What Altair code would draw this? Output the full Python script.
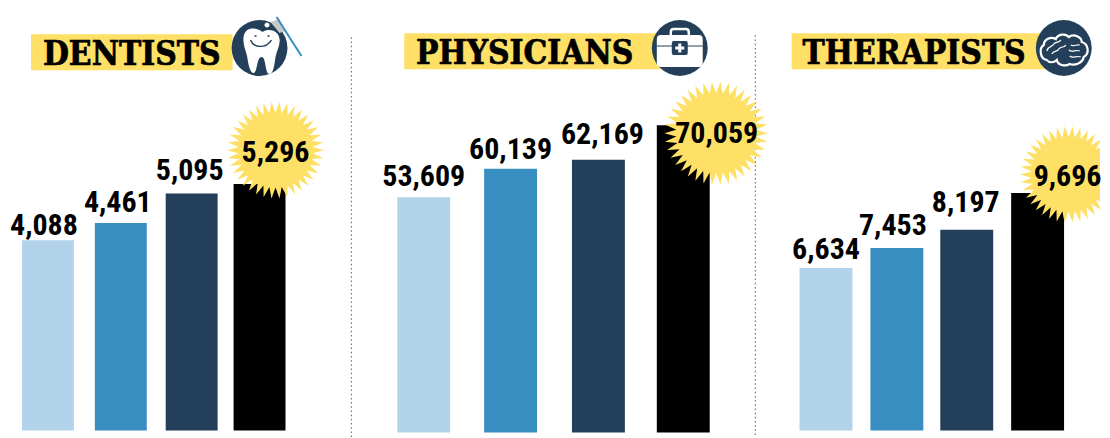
import math
import altair as alt
import pandas as pd

# ---------- data ----------
groups = ["Group 1", "Group 2", "Group 3", "Group 4"]
dentists = [4088, 4461, 5095, 5296]
physicians = [53609, 60139, 62169, 70059]
therapists = [6634, 7453, 8197, 9696]
titles = ["DENTISTS", "PHYSICIANS", "THERAPISTS"]

BLUES = ["#b3d3ea", "#388ec0", "#243f59", "#000000"]
YELLOW = "#ffe066"
NAVY = "#243f59"
HEIGHT = 422
SERIF = "DejaVu Serif Condensed"
NARROW = "Roboto Condensed, Liberation Sans"


def star_path(n=38, inner=0.77):
    pts = []
    for i in range(2 * n):
        r = 1 if i % 2 == 0 else inner
        a = math.pi * i / n
        pts.append(f"{r * math.cos(a):.4f},{r * math.sin(a):.4f}")
    return "M" + "L".join(pts) + "Z"


STAR = star_path()
one = pd.DataFrame({"k": [0]})


def icon(x, y, path, fill=None, stroke=None, sw=0):
    # paths are in pixels around the icon centre (symbol size 4 = scale 1)
    kw = dict(shape=path, size=4, opacity=1)
    if fill:
        kw.update(filled=True, fill=fill, strokeWidth=0)
    else:
        kw.update(filled=False, stroke=stroke, strokeWidth=sw)
    return alt.Chart(one).mark_point(**kw).encode(x=alt.value(x), y=alt.value(y))


def panel(values, title, width, centers, top, bottom, bar_w, label_off, star, star_txt,
          title_x, band, icon_x, icons, rule_x=None, rule_top=None, clip=False):
    df = pd.DataFrame({"group": groups, "idx": [0, 1, 2, 3], "value": values, "color": BLUES})
    xs = alt.X("idx:Q", axis=None, scale=alt.Scale(domain=[0, 1, 2, 3], range=centers, nice=False, zero=False, padding=0))
    ys = alt.Y("value:Q", axis=None, scale=alt.Scale(domain=[0, values[-1]], range=[bottom, top], nice=False))
    layers = []
    if rule_x is not None:
        layers.append(
            alt.Chart(one).mark_rule(color="#777777", strokeWidth=1.2, strokeDash=[1.5, 2.7]).encode(
                x=alt.value(rule_x), y=alt.value(rule_top), y2=alt.value(430))
        )
    layers.append(
        alt.Chart(one).mark_rect(color=YELLOW).encode(
            x=alt.value(band[0]), x2=alt.value(band[1]), y=alt.value(band[2]), y2=alt.value(band[3]))
    )
    layers.append(
        alt.Chart(df).mark_bar(size=bar_w, orient="vertical").encode(
            x=xs, y=ys, color=alt.Color("color:N", scale=None, legend=None))
    )
    layers.append(
        alt.Chart(one).mark_point(shape=STAR, size=(2 * star[2]) ** 2, filled=True, fill=YELLOW,
                                  strokeWidth=0, opacity=1, clip=clip).encode(
            x=alt.value(star[0]), y=alt.value(star[1]))
    )
    for i in range(4):
        dx, dy = (label_off[i] if i < 3 else star_txt)
        layers.append(
            alt.Chart(df[df.idx == i]).mark_text(
                font=NARROW, fontWeight="bold", fontSize=30, color="#000000",
                align="center", baseline="alphabetic", dx=dx, dy=dy
            ).encode(x=xs, y=ys, text=alt.Text("value:Q", format=","))
        )
    layers.append(
        alt.Chart(pd.DataFrame({"t": [title]})).mark_text(
            font=SERIF, fontWeight="bold", fontSize=33.3, color="#000000", align="left", baseline="alphabetic",
            stroke="#000000", strokeWidth=0.7
        ).encode(x=alt.value(title_x), y=alt.value(band[3] - 5.5), text="t:N")
    )
    layers.append(
        alt.Chart(one).mark_point(shape="circle", size=(2 * 28) ** 2, filled=True, fill=NAVY,
                                  strokeWidth=0, opacity=1).encode(x=alt.value(icon_x), y=alt.value(39.7))
    )
    layers += icons
    return alt.layer(*layers).properties(width=width, height=HEIGHT)


# ---------- icons ----------
cx1, cy = 252, 39.7
tooth = ("M3,-16 C-2,-20 -14,-23 -16,-11 C-17,-2 -13,3 -12,11 C-11,18 -9,25 -6,25 "
         "C-2,25 -3,9 2,9 C7,9 5,26 10,26 C14,26 15,16 16,9 C17,3 21,-3 20,-9 C19,-18 9,-20 3,-16Z")
smile = "M-9,-8 C-6,0 6,1 12,-8"
eyes = "M-5,-12 L-3,-12 M8,-12 L10,-12"
brush_head = "M11,-26 L20,-29 L26,-17 L20,-15Z"
brush = "M17,-31 L42,8"
mirror = "M5,-23 A2.5,2.5 0 1 0 10,-23 A2.5,2.5 0 1 0 5,-23Z"
icons1 = [
    icon(cx1, cy, brush_head, fill="#c9c9c9"),
    icon(cx1, cy, brush, stroke="#388ec0", sw=2),
    icon(cx1, cy, mirror, fill="#ffffff"),
    icon(cx1, cy, tooth, fill="#ffffff"),
    icon(cx1, cy, smile, stroke=NAVY, sw=1.4),
    icon(cx1, cy, eyes, stroke=NAVY, sw=1.6),
]

cx2 = 329
case = "M-19,-13 L19,-13 Q23,-13 23,-9 L23,15 Q23,19 19,19 L-19,19 Q-23,19 -23,15 L-23,-9 Q-23,-13 -19,-13Z"
handle = "M-9,-13 L-9,-16 Q-9,-19 -6,-19 L6,-19 Q9,-19 9,-16 L9,-13"
band_line = "M-23,-2 L23,-2"
latch = "M-6,-7 L6,-7 Q8,-7 8,-5 L8,5 Q8,7 6,7 L-6,7 Q-8,7 -8,5 L-8,-5 Q-8,-7 -6,-7Z"
plus = "M-1.5,-4.5 L1.5,-4.5 L1.5,-1.5 L4.5,-1.5 L4.5,1.5 L1.5,1.5 L1.5,4.5 L-1.5,4.5 L-1.5,1.5 L-4.5,1.5 L-4.5,-1.5 L-1.5,-1.5Z"
icons2 = [
    icon(cx2, cy, case, fill="#ffffff"),
    icon(cx2, cy, handle, stroke="#ffffff", sw=2.4),
    icon(cx2, cy, band_line, stroke=NAVY, sw=1),
    icon(cx2, cy, latch, fill=NAVY),
    icon(cx2, cy, plus, fill="#ffffff"),
]

cx3 = 307.7
brain = ("M-17,12 C-24,11 -25,0 -20,-3 C-20,-9 -13,-12 -8,-9 C-6,-14 2,-15 5,-11 C10,-15 18,-11 18,-6 "
         "C25,-4 26,6 20,9 C19,15 11,18 6,16 C1,19 -6,17 -7,12 C-10,15 -15,15 -17,12Z")
folds1 = "M-17,3 C-15,-3 -11,-1 -10,-4 C-8,-7 -4,-5 -3,-8 M-12,6 C-10,2 -6,4 -5,1 C-3,-2 1,0 2,-3"
folds2 = "M5,2 C9,5 12,1 16,3 M6,8 C9,11 13,7 17,9 M7,-3 C10,-1 13,-4 16,-3"
icons3 = [
    icon(cx3, cy, brain, stroke="#ffffff", sw=2.2),
    icon(cx3, cy, folds1, stroke="#ffffff", sw=1.2),
    icon(cx3, cy, folds2, stroke="#ffffff", sw=1.2),
]

p1 = panel(dentists, titles[0], 344, [40, 113, 184, 252], 176, 423, 52,
           [(-4, -5), (-3, -11), (-2, -13)], (268, 142, 48.5), (16, -22),
           35, (23, 225, 26, 62), cx1, icons1, rule_x=344, rule_top=29)
p2 = panel(physicians, titles[1], 406, [72.5, 159.5, 247.5, 332.5], 117, 425, 53,
           [(0, -11), (0, -10), (4, -16)], (365.5, 125, 52), (33.5, 18),
           64.7, (53, 310, 25, 61), cx2, icons2, rule_x=404.7, rule_top=27)
p3 = panel(therapists, titles[2], 344, [69.5, 140.5, 210.5, 281.5], 185, 423, 53,
           [(0, -9), (-4, -13), (-1, -18)], (312.5, 166.5, 48.5), (30, -7),
           46, (35, 290, 25, 61), cx3, icons3, clip=True)

chart = (
    alt.hconcat(p1, p2, p3, spacing=0, bounds="flush")
    .properties(padding=0)
    .configure_view(strokeWidth=0)
)
chart.save("out.html", embed_options={"renderer": "svg", "actions": False})
